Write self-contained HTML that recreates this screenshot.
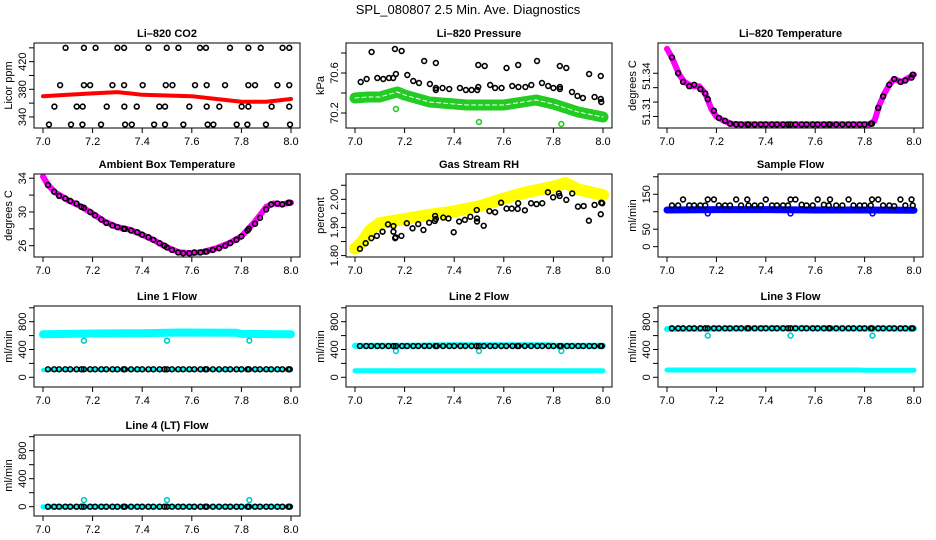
<!DOCTYPE html>
<html><head><meta charset="utf-8">
<style>
html,body{margin:0;padding:0;background:#fff;}
svg{display:block;font-family:"Liberation Sans",Arial,sans-serif;}
</style></head>
<body>
<svg id="chart" width="936" height="540" viewBox="0 0 936 540" xmlns="http://www.w3.org/2000/svg">
<rect width="936" height="540" fill="#fff"/>
<text x="468" y="14" text-anchor="middle" font-size="13">SPL_080807  2.5 Min. Ave. Diagnostics</text>
</svg>
<script>
// ---- shared data ----
const xTicks = [7.0, 7.2, 7.4, 7.6, 7.8, 8.0];
const xTickLabels = ["7.0", "7.2", "7.4", "7.6", "7.8", "8.0"];
const sampleTimes = [7.02,7.045,7.065,7.09,7.11,7.135,7.155,7.165,7.19,7.21,7.235,7.255,7.28,7.30,7.325,7.33,7.355,7.38,7.40,7.425,7.445,7.47,7.49,7.50,7.52,7.545,7.565,7.59,7.61,7.635,7.655,7.66,7.685,7.71,7.735,7.755,7.78,7.80,7.825,7.83,7.855,7.875,7.90,7.92,7.945,7.965,7.99,7.995];
const outlierTimes = [7.165, 7.50, 7.832];

// CO2
const co2X = [7.091,7.165,7.212,7.300,7.327,7.425,7.499,7.546,7.633,7.657,7.754,7.828,7.878,7.966,7.993,
 7.069,7.165,7.190,7.280,7.327,7.402,7.495,7.522,7.613,7.660,7.734,7.828,7.855,7.945,7.993,
 7.046,7.136,7.160,7.257,7.328,7.378,7.469,7.492,7.590,7.660,7.711,7.801,7.828,7.922,7.993,
 7.024,7.113,7.159,7.234,7.331,7.358,7.448,7.492,7.566,7.664,7.687,7.781,7.824,7.899,7.996];
const co2Y = [440,440,440,440,440,440,440,440,440,440,440,440,440,440,440,
 386,386,386,386,386,386,386,386,386,386,386,386,386,386,386,
 355,355,355,355,355,355,355,355,355,355,355,355,355,355,355,
 329,329,329,329,329,329,329,329,329,329,329,329,329,329,329];
const co2BandX = [7.0,7.1,7.2,7.3,7.35,7.4,7.5,7.6,7.7,7.75,7.8,7.9,8.0];
const co2BandY = [370,372,374,376,374,372,371,370,366,364,362,362,366];

// Pressure
const presX = [7.023,7.047,7.067,7.090,7.114,7.137,7.154,7.161,7.165,7.188,7.211,7.235,7.258,7.279,7.302,7.326,7.326,7.326,7.353,7.380,7.423,7.447,7.470,7.493,7.497,7.497,7.523,7.545,7.565,7.591,7.611,7.634,7.658,7.659,7.687,7.711,7.734,7.754,7.779,7.800,7.826,7.826,7.826,7.852,7.875,7.897,7.919,7.944,7.966,7.991,7.991,7.993];
const presY = [70.51,70.54,70.81,70.55,70.54,70.55,70.55,70.84,70.59,70.82,70.58,70.52,70.50,70.72,70.49,70.70,70.45,70.43,70.45,70.44,70.45,70.43,70.43,70.43,70.46,70.68,70.67,70.48,70.45,70.45,70.65,70.47,70.68,70.46,70.46,70.48,70.72,70.50,70.47,70.45,70.44,70.46,70.67,70.65,70.41,70.37,70.35,70.59,70.36,70.57,70.34,70.31];
const presBandX = [7.0,7.05,7.1,7.17,7.2,7.3,7.45,7.6,7.73,7.8,7.85,7.9,8.0];
const presBandY = [70.35,70.36,70.36,70.41,70.38,70.31,70.28,70.28,70.33,70.29,70.25,70.21,70.16];
const presOutY = [70.24, 70.11, 70.09];

// Li-820 temperature
const tempBandX = [7.0,7.02,7.05,7.07,7.1,7.13,7.15,7.16,7.18,7.2,7.23,7.26,7.3,7.4,7.5,7.6,7.7,7.82,7.84,7.86,7.88,7.9,7.92,7.95,7.98,8.0];
const tempBandY = [51.357,51.351,51.339,51.334,51.331,51.331,51.327,51.324,51.315,51.31,51.307,51.305,51.3045,51.3045,51.3045,51.3045,51.3045,51.3045,51.307,51.318,51.326,51.332,51.336,51.334,51.337,51.339];
const tempBlack = [51.351,51.340,51.334,51.331,51.332,51.329,51.326,51.322,51.314,51.309,51.307,51.305,
 51.3045,51.3045,51.3045,51.3045,51.3045,51.3045,51.3045,51.3045,51.3045,51.3045,51.3045,51.3045,51.3045,51.3045,51.3045,51.3045,51.3045,51.3045,51.3045,51.3045,51.3045,51.3045,51.3045,51.3045,51.3045,51.3045,
 51.305,51.305,51.316,51.324,51.332,51.336,51.334,51.335,51.337,51.339];

// Ambient
const ambBandX = [7.0,7.02,7.05,7.1,7.15,7.2,7.25,7.3,7.35,7.4,7.45,7.5,7.55,7.6,7.65,7.7,7.75,7.8,7.85,7.88,7.9,7.93,7.96,8.0];
const ambBandY = [34.2,33.2,32.3,31.4,30.7,29.8,28.85,28.2,27.9,27.3,26.6,25.8,25.2,25.1,25.3,25.7,26.3,27.1,28.7,29.8,30.6,31.0,30.9,31.1];
const ambBlack = [33.2,32.4,31.9,31.6,31.3,31.0,30.6,30.5,30.0,29.6,29.1,28.7,28.4,28.2,28.0,28.0,27.8,27.6,27.3,27.0,26.7,26.3,26.0,25.8,25.5,25.2,25.1,25.1,25.2,25.2,25.3,25.3,25.5,25.7,26.0,26.3,26.7,27.1,27.8,28.0,28.6,29.3,30.3,30.9,31.0,30.9,31.1,31.1];

// Gas stream RH
const rhX = [7.020,7.043,7.066,7.088,7.111,7.133,7.155,7.155,7.162,7.164,7.187,7.209,7.232,7.255,7.276,7.299,7.322,7.323,7.326,7.356,7.377,7.398,7.420,7.443,7.465,7.491,7.492,7.492,7.519,7.542,7.565,7.589,7.611,7.632,7.656,7.658,7.685,7.710,7.732,7.755,7.778,7.799,7.822,7.825,7.852,7.876,7.899,7.922,7.943,7.966,7.991,7.993,7.997];
const rhY = [1.824,1.844,1.862,1.870,1.885,1.911,1.905,1.885,1.862,1.865,1.870,1.915,1.897,1.912,1.891,1.917,1.923,1.941,1.930,1.935,1.932,1.883,1.921,1.927,1.938,1.962,1.921,1.932,1.906,1.958,1.954,1.988,1.967,1.967,1.966,1.986,1.961,1.986,1.983,1.986,2.025,2.007,2.021,2.012,1.998,2.021,1.974,1.976,1.924,1.980,1.947,1.988,1.986];
const rhBandX = [7.0,7.03,7.06,7.1,7.2,7.3,7.4,7.5,7.6,7.7,7.8,7.85,7.9,8.0];
const rhBandY = [1.825,1.85,1.89,1.915,1.93,1.945,1.957,1.975,2.003,2.027,2.045,2.058,2.035,2.015];

// Sample flow
const flowBlack = [118,118,135,118,118,118,118,135,135,118,118,118,135,118,135,118,118,118,135,118,118,118,118,135,135,120,118,118,135,120,118,135,118,118,135,118,118,118,118,135,135,118,118,116,135,118,135,118];
const flowBandX = [7.0,7.2,7.4,7.6,7.8,8.0];
const flowBandY = [105,106,106,105,105,104];
const flowOutY = [95,95,95];

// Line flows
const lineBandX = [7.0,7.2,7.4,7.55,7.78,7.8,8.0];
const line1High = [620,630,635,645,640,625,620];
const line1Low = [105,105,105,105,105,105,105];
const line1Black = [115,115,115,115,115,115,115,115,115,115,115,115,115,115,115,115,115,115,115,115,115,115,115,115,115,115,115,115,115,115,115,115,115,115,115,115,115,115,115,115,115,115,115,115,115,115,115,115];
const line1Out = [527,527,527];
const line2High = [455,455,460,460,460,455,455];
const line2Low = [95,95,95,95,95,95,95];
const line2Black = [450,450,450,450,450,450,450,450,450,450,450,450,450,450,450,450,450,450,450,450,450,450,450,450,450,450,450,450,450,450,450,450,450,450,450,450,450,450,450,450,450,450,450,450,450,450,450,450];
const line2Out = [378,378,378];
const line3High = [695,700,705,705,700,700,700];
const line3Low = [105,105,105,105,105,100,100];
const line3Black = [705,705,705,705,705,705,705,705,705,705,705,705,705,705,705,705,705,705,705,705,705,705,705,705,705,705,705,705,705,705,705,705,705,705,705,705,705,705,705,705,705,705,705,705,705,705,705,705];
const line3Out = [600,600,600];
const line4High = [0,0,0,0,0,0,0];
const line4Black = [0,0,0,0,0,0,0,0,0,0,0,0,0,0,0,0,0,0,0,0,0,0,0,0,0,0,0,0,0,0,0,0,0,0,0,0,0,0,0,0,0,0,0,0,0,0,0,0];
const line4Out = [95,95,95];

// ---- drawing ----
const NS = "http://www.w3.org/2000/svg";
const svg = document.getElementById("chart");
const colL = [34, 346, 658], colR = [300, 612, 923];
const rowT = [43, 174, 306, 435], rowB = [128, 257, 387, 516];

function mk(tag, attrs, parent) {
  const e = document.createElementNS(NS, tag);
  for (const k in attrs) e.setAttribute(k, attrs[k]);
  (parent || svg).appendChild(e);
  return e;
}

function panel(col, row, title, ylab, ylim, yTicks, yLabels, name, labelAt) {
  const L = colL[col], R = colR[col], T = rowT[row], B = rowB[row];
  const g = mk("g", {});
  
  
  const xs = v => L + 9 + (v - 7) * (R - L - 18);
  const ys = v => B - (v - ylim[0]) / (ylim[1] - ylim[0]) * (B - T);
  const t = mk("text", {x: (L + R) / 2, y: T - 6, "text-anchor": "middle", "font-size": 11, "font-weight": "bold"}, g);
  t.textContent = title;
  
  
  const yt = mk("text", {x: 0, y: 0, "text-anchor": "middle", "font-size": 11, transform: `translate(${L - 22},${(T + B) / 2}) rotate(-90)`}, g);
  yt.textContent = ylab;
  
  
  const xa = mk("g", {}, g);
  
  
  mk("line", {x1: xs(xTicks[0]), x2: xs(xTicks[xTicks.length - 1]), y1: B, y2: B, stroke: "#000"}, xa);
  xTicks.forEach((v, i) => {
    mk("line", {x1: xs(v), x2: xs(v), y1: B, y2: B + 5, stroke: "#000"}, xa);
    const lt = mk("text", {x: xs(v), y: B + 17, "text-anchor": "middle", "font-size": 11}, xa);
    lt.textContent = xTickLabels[i];
  });
  const ya = mk("g", {}, g);
  
  
  const lp = labelAt || yTicks;
  yTicks.forEach((v, i) => {
    mk("line", {x1: L - 5, x2: L, y1: ys(v), y2: ys(v), stroke: "#000"}, ya);
    if (yLabels[i]) {
      const lt = mk("text", {x: 0, y: 0, "text-anchor": "middle", "font-size": 11, transform: `translate(${L - 8},${ys(lp[i])}) rotate(-90)`}, ya);
      lt.textContent = yLabels[i];
    }
  });
  const clip = "clip" + col + row;
  const cp = mk("clipPath", {id: clip}, g);
  mk("rect", {x: L, y: T, width: R - L, height: B - T}, cp);
  const area = mk("g", {"clip-path": `url(#${clip})`}, g);
  
  
  const box = mk("rect", {x: L, y: T, width: R - L, height: B - T, fill: "none", stroke: "#000"}, g);
  
  
  return {xs, ys, area};
}

function band(p, X, Y, color, width, nm) {
  const d = X.map((v, i) => (i ? "L" : "M") + p.xs(v).toFixed(1) + "," + p.ys(Y[i]).toFixed(1)).join("");
  const e = mk("path", {d, fill: "none", stroke: color, "stroke-width": width, "stroke-linejoin": "round", "stroke-linecap": "round"}, p.area);
  
  
  return e;
}
function pts(p, X, Y, color, nm) {
  const g = mk("g", {}, p.area);
  
  
  X.forEach((v, i) => mk("circle", {cx: p.xs(v), cy: p.ys(Y[i]), r: 2.4, fill: "none", stroke: color, "stroke-width": 1.6}, g));
}

let p;
p = panel(0, 0, "Li\u2013820 CO2", "Licor ppm", [324, 447], [340,360,380,400,420,440], ["340","","380","","420",""], "co2");
band(p, co2BandX, co2BandY, "#ff0000", 4, "co2-series");
pts(p, co2X, co2Y, "#000", "co2-average-points");

p = panel(1, 0, "Li\u2013820 Pressure", "kPa", [70.05, 70.9], [70.2,70.4,70.6,70.8], ["70.2","","70.6",""], "pressure");
band(p, presBandX, presBandY, "#22cc22", 11, "pressure-series");
band(p, presBandX, presBandY, "#ffffff", 1, "pressure-series-gap").setAttribute("stroke-dasharray", "4 3");
pts(p, outlierTimes, presOutY, "#22cc22", "pressure-outliers");
pts(p, presX, presY, "#000", "pressure-average-points");

p = panel(2, 0, "Li\u2013820 Temperature", "degrees C", [51.302, 51.361], [51.31,51.32,51.33,51.34], ["51.31","","","51.34"], "li820-temp", [51.3135,51.32,51.33,51.338]);
band(p, tempBandX, tempBandY, "#ff00ff", 6, "li820-temp-series");
pts(p, sampleTimes, tempBlack, "#000", "li820-temp-average-points");

p = panel(0, 1, "Ambient Box Temperature", "degrees C", [24.66, 34.5], [26,28,30,32,34], ["26","","30","","34"], "ambient");
band(p, ambBandX, ambBandY, "#ff00ff", 6, "ambient-series");
pts(p, sampleTimes, ambBlack, "#000", "ambient-average-points");

p = panel(1, 1, "Gas Stream RH", "percent", [1.795, 2.09], [1.80,1.85,1.90,1.95,2.00,2.05], ["1.80","","1.90","","2.00",""], "rh");
band(p, rhBandX, rhBandY, "#ffff00", 12, "rh-series");
pts(p, rhX, rhY, "#000", "rh-average-points");

p = panel(2, 1, "Sample Flow", "ml/min", [-29.6, 208], [0,50,100,150,200], ["0","50","","150",""], "sample-flow");
band(p, flowBandX, flowBandY, "#0000ff", 7, "sample-flow-series");
pts(p, outlierTimes, flowOutY, "#0000ff", "sample-flow-outliers");
pts(p, sampleTimes, flowBlack, "#000", "sample-flow-average-points");

const lt = [0,200,400,600,800,1000], ll = ["0","","400","","800",""];
p = panel(0, 2, "Line 1 Flow", "ml/min", [-140, 1026], lt, ll, "line1");
band(p, lineBandX, line1High, "#00ffff", 8, "line1-high-series");
band(p, lineBandX, line1Low, "#00ffff", 4, "line1-low-series");
pts(p, outlierTimes, line1Out, "#00cccc", "line1-outliers");
pts(p, sampleTimes, line1Black, "#000", "line1-average-points");

p = panel(1, 2, "Line 2 Flow", "ml/min", [-140, 1026], lt, ll, "line2");
band(p, lineBandX, line2High, "#00ffff", 6, "line2-high-series");
band(p, lineBandX, line2Low, "#00ffff", 5, "line2-low-series");
pts(p, outlierTimes, line2Out, "#00cccc", "line2-outliers");
pts(p, sampleTimes, line2Black, "#000", "line2-average-points");

p = panel(2, 2, "Line 3 Flow", "ml/min", [-140, 1026], lt, ll, "line3");
band(p, lineBandX, line3High, "#00ffff", 6, "line3-high-series");
band(p, lineBandX, line3Low, "#00ffff", 5, "line3-low-series");
pts(p, outlierTimes, line3Out, "#00cccc", "line3-outliers");
pts(p, sampleTimes, line3Black, "#000", "line3-average-points");

p = panel(0, 3, "Line 4 (LT) Flow", "ml/min", [-133, 1024], lt, ll, "line4");
band(p, lineBandX, line4High, "#00ffff", 5, "line4-series");
pts(p, outlierTimes, line4Out, "#00cccc", "line4-outliers");
pts(p, sampleTimes, line4Black, "#000", "line4-average-points");
</script>
</body></html>
